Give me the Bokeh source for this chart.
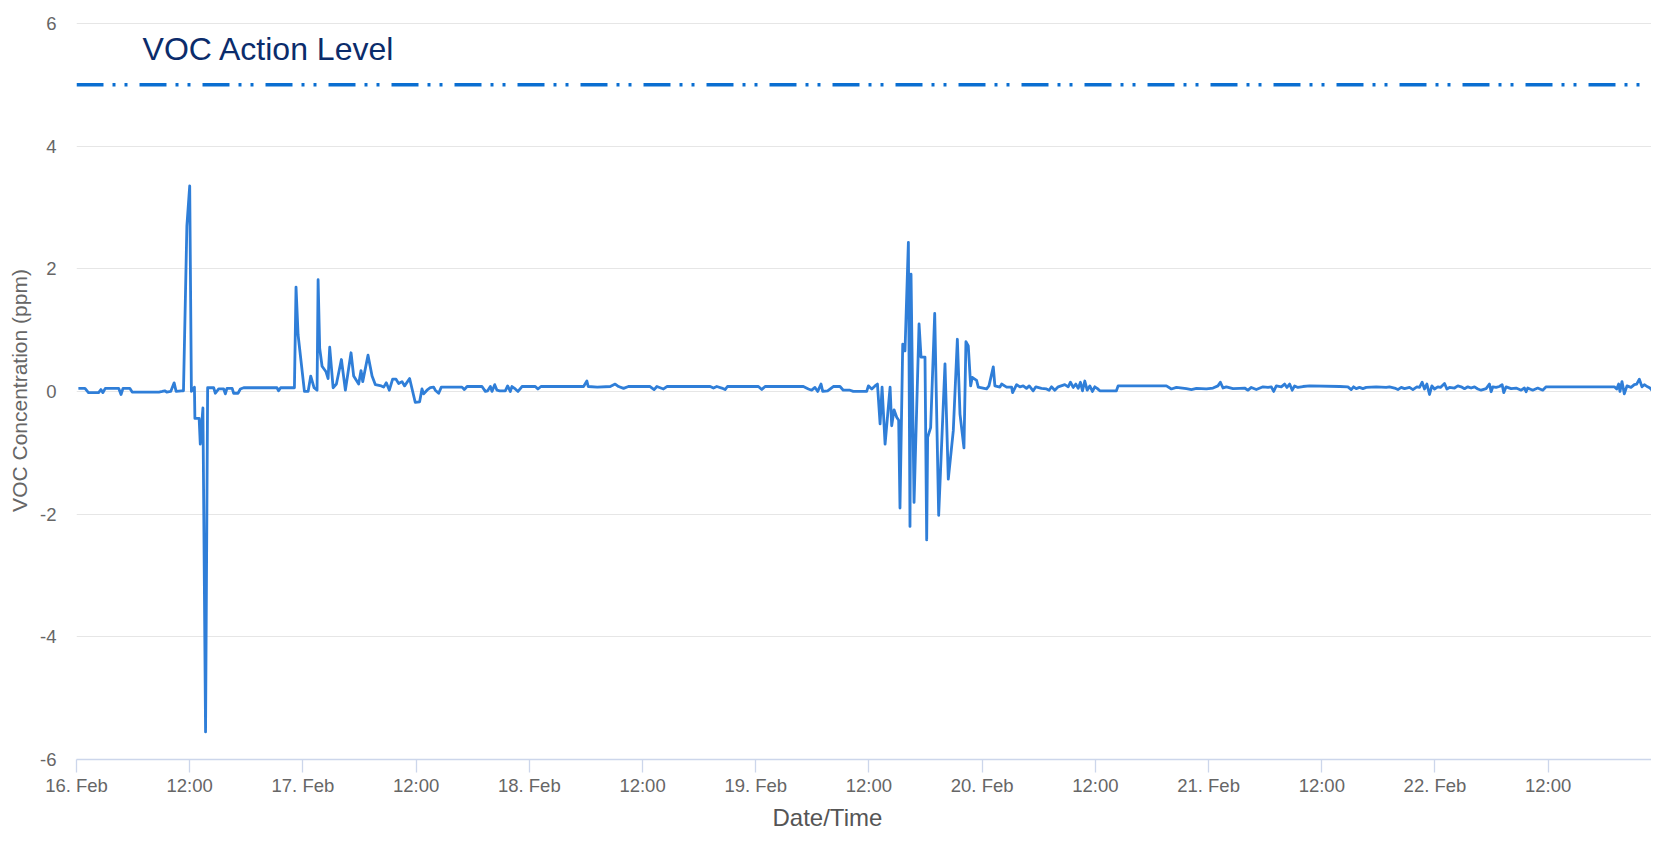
from bokeh.plotting import figure
from bokeh.models import FixedTicker, Span, Label, Range1d, ColumnDataSource, Title
from bokeh.embed import file_html
from bokeh.resources import INLINE

# ---------------- data ----------------
START_DATE = "2021-02-16 00:00"   # x values are hours after this moment

hours = [
    0.2, 0.9, 1.27, 2.34, 2.59, 2.8, 3.05, 4.47, 4.72, 4.93, 5.65, 5.9, 8.74, 9.1, 9.35, 9.56, 9.99,
    10.35, 10.56, 11.13, 11.34, 11.7, 12.0, 12.18, 12.35, 12.5, 12.55, 13.0, 13.12, 13.4, 13.68, 13.9,
    14.54, 14.72, 15.07, 15.6, 15.78, 15.95, 16.5, 16.66, 17.12, 17.37, 17.72, 21.25, 21.42, 21.64, 23.1,
    23.27, 23.49, 24.16, 24.55, 24.83, 25.18, 25.5, 25.61, 25.78, 26.03, 26.45, 26.67, 26.84, 27.2,
    27.55, 28.08, 28.5, 29.1, 29.38, 29.91, 30.16, 30.34, 30.9, 31.33, 31.68, 32.31, 32.56, 32.84,
    33.16, 33.51, 33.87, 34.15, 34.5, 34.78, 35.31, 35.91, 36.37, 36.62, 36.8, 37.15, 37.5, 37.86,
    38.03, 38.39, 38.67, 40.86,
    41.11, 41.4, 42.98, 43.34, 43.58, 43.87, 44.04, 44.33, 44.57, 44.85, 45.45, 45.7, 45.98, 46.16,
    46.51, 46.8, 47.22, 48.63, 48.91, 49.23, 53.75, 54.1, 54.24, 55.2, 56.58, 57.1, 57.46, 57.99,
    58.5, 60.8, 61.23, 61.52, 62.22, 62.58, 67.17, 67.52, 67.87, 68.4, 68.75, 69.0, 72.28, 72.64,
    72.99, 77.05, 77.58, 77.93, 78.28, 78.57, 78.92, 79.1, 79.62, 80.22, 80.93, 81.28, 81.99, 82.34,
    83.76, 83.94, 84.3, 84.64, 84.9,
    85.18, 85.39, 85.71, 86.24, 86.41, 86.66, 86.94, 87.15, 87.29, 87.58, 87.82, 88.18, 88.35, 88.46,
    88.78, 89.31, 89.52, 89.94, 90.12, 90.22, 90.54, 90.97, 91.39, 92.06, 92.41, 92.94, 93.37, 93.65,
    94.07, 94.28, 94.53, 94.78, 94.95, 95.41, 95.59, 96.47, 96.72, 97.18, 97.35, 97.88, 98.06, 98.59,
    99.12, 99.23, 99.65,
    100.0, 100.35, 100.7, 100.99, 101.41, 101.69, 102.29, 102.82, 103.1, 103.35, 103.7, 104.06,
    104.76, 105.12, 105.36, 105.65, 105.93, 106.18, 106.42, 106.63, 106.88, 107.13, 107.41, 107.69,
    107.94, 108.19, 108.47, 110.23, 110.41, 115.53, 116.06, 116.59, 117.65, 118.18, 118.71, 119.24,
    119.77, 120.47, 120.99, 121.25, 121.53, 121.88, 122.59, 123.3, 123.82, 124.18, 124.53, 125.06,
    125.77, 126.3, 126.65, 126.9, 127.18, 127.71, 128.06, 128.31, 128.59, 128.87, 129.12, 129.47,
    130.0, 130.71, 133.9,
    134.77, 135.12, 135.37, 135.65, 136.0, 136.36, 136.71, 137.77, 138.83, 139.18, 139.71, 140.07,
    140.42, 140.77, 141.3, 141.66, 142.08, 142.36, 142.64, 142.89, 143.14, 143.42, 143.67, 143.95,
    144.3, 144.58, 145.01, 145.26, 145.54, 146.07, 146.42, 146.77, 147.13, 147.48, 147.83, 148.19,
    148.54, 148.89, 149.42, 149.77, 149.95, 150.13, 150.48, 150.83, 151.12, 151.29, 151.54, 152.07,
    152.6, 153.13, 153.48, 153.66, 153.83, 154.36, 154.89, 155.42, 155.78, 163.01, 163.26, 163.47,
    163.61, 163.82, 164.07, 164.35, 164.78, 165.13, 165.38, 165.66, 165.94, 166.19, 166.54, 166.79,
    167.0, 167.25, 167.6, 167.78,
]

voc_ppm = [
    0.05, 0.05, -0.02, -0.02, 0.03, -0.02, 0.05, 0.05, -0.05, 0.05, 0.05, -0.01, -0.01, 0.0, 0.01, -0.01, 0.0,
    0.14, 0.0, 0.01, 0.01, 2.7, 3.35, 0.0, 0.03, 0.07, -0.44, -0.44, -0.86, -0.27, -5.55, 0.06,
    0.06, -0.03, 0.04, 0.04, -0.04, 0.05, 0.05, -0.03, -0.03, 0.04, 0.06, 0.06, 0.01, 0.06, 0.06,
    1.7, 0.92, 0.0, 0.0, 0.25, 0.06, 0.02, 1.82, 0.7, 0.41, 0.32, 0.21, 0.72, 0.06,
    0.12, 0.52, 0.02, 0.63, 0.25, 0.12, 0.34, 0.16, 0.59, 0.25, 0.11, 0.09, 0.07, 0.14,
    0.02, 0.2, 0.2, 0.13, 0.16, 0.09, 0.21, -0.18, -0.17, 0.04, -0.04, 0.02, 0.06, 0.07,
    0.02, -0.03, 0.07, 0.07,
    0.03, 0.08, 0.08, 0.0, 0.01, 0.08, 0.0, 0.11, 0.02, 0.01, 0.01, 0.09, 0.0, 0.08,
    0.04, 0.0, 0.08, 0.08, 0.04, 0.08, 0.08, 0.17, 0.08, 0.07, 0.08, 0.12, 0.08, 0.05,
    0.08, 0.08, 0.03, 0.08, 0.04, 0.08, 0.08, 0.055, 0.08, 0.055, 0.03, 0.08, 0.08, 0.03,
    0.08, 0.08, 0.04, 0.02, 0.065, 0.0, 0.12, 0.0, 0.01, 0.08, 0.08, 0.02, 0.02, 0.0,
    0.0, 0.09, 0.04, 0.09, 0.12,
    -0.53, 0.07, -0.86, 0.07, -0.56, -0.3, -0.42, -0.47, -1.9, 0.77, 0.66, 2.43, -2.2, 1.91,
    -1.81, 1.1, 0.56, 0.56, -2.42, -0.75, -0.59, 1.27, -2.02, 0.45, -1.43, -0.64, 0.85, -0.37,
    -0.92, 0.81, 0.74, 0.09, 0.23, 0.18, 0.07, 0.04, 0.09, 0.4, 0.09, 0.07, 0.12, 0.07,
    0.07, -0.02, 0.11,
    0.075, 0.09, 0.05, 0.09, 0.01, 0.075, 0.05, 0.04, 0.02, 0.075, 0.02, 0.075,
    0.11, 0.075, 0.15, 0.065, 0.12, 0.05, 0.15, 0.01, 0.17, 0.02, 0.09, 0.0,
    0.075, 0.05, 0.01, 0.01, 0.09, 0.09, 0.04, 0.065, 0.045, 0.03, 0.05, 0.045,
    0.04, 0.055, 0.09, 0.15, 0.055, 0.075, 0.045, 0.05, 0.055, 0.02, 0.065, 0.03,
    0.075, 0.065, 0.075, 0.0, 0.09, 0.075, 0.12, 0.065, 0.12, 0.02, 0.09, 0.065,
    0.08, 0.09, 0.08,
    0.075, 0.03, 0.075, 0.045, 0.065, 0.045, 0.065, 0.075, 0.065, 0.075, 0.055, 0.03,
    0.065, 0.045, 0.065, 0.03, 0.075, 0.065, 0.15, 0.04, 0.12, -0.05, 0.09, 0.04,
    0.075, 0.065, 0.13, 0.04, 0.065, 0.055, 0.09, 0.075, 0.045, 0.075, 0.055, 0.075,
    0.04, 0.02, 0.045, 0.12, -0.005, 0.075, 0.065, 0.08, 0.11, -0.02, 0.075, 0.045,
    0.055, 0.02, 0.055, -0.005, 0.055, 0.02, 0.055, 0.02, 0.075, 0.075, 0.04, 0.12,
    0.0, 0.16, -0.04, 0.09, 0.065, 0.11, 0.12, 0.2, 0.075, 0.11, 0.075, 0.055,
    0.02, 0.075, 0.03, 0.035,
]

action_level_ppm = 5

x_tick_hours = [0, 12, 24, 36, 48, 60, 72, 84, 96, 108, 120, 132, 144, 156]
x_tick_labels = ["16. Feb", "12:00", "17. Feb", "12:00", "18. Feb", "12:00", "19. Feb", "12:00",
                 "20. Feb", "12:00", "21. Feb", "12:00", "22. Feb", "12:00"]
y_ticks = [-6, -4, -2, 0, 2, 4, 6]
y_tick_labels = ["-6", "-4", "-2", "0", "2", "4", "6"]

FONT = "Liberation Sans"

# ---------------- figure ----------------
p = figure(width=1651, height=834, output_backend="svg", toolbar_location=None,
           x_range=Range1d(0, 166.95), y_range=Range1d(-6, 6.03),
           min_border_left=76, min_border_right=0, min_border_top=21, min_border_bottom=75)
p.outline_line_color = None
p.background_fill_color = "white"
p.border_fill_color = "white"

src = ColumnDataSource(dict(t=hours, voc=voc_ppm))
p.line(x="t", y="voc", source=src, line_color="#2f7ed8", line_width=2.8, line_join="round")

p.add_layout(Span(location=action_level_ppm, dimension="width", line_color="#0a6ed1",
                  line_width=3.5, line_dash="27 9 3 9 3 12"))
p.add_layout(Label(x=7.0, y=action_level_ppm, y_offset=36, text="VOC Action Level",
                   text_font=FONT, text_font_size="32px", text_color="#0b2c6b",
                   text_baseline="alphabetic", text_align="left"))

# grid
p.xgrid.grid_line_color = None
p.ygrid.grid_line_color = "#e6e6e6"
p.ygrid.grid_line_width = 1

# x axis
xa = p.xaxis[0]
xa.ticker = FixedTicker(ticks=x_tick_hours)
xa.major_label_overrides = {h: lab for h, lab in zip(x_tick_hours, x_tick_labels)}
xa.axis_line_color = "#ccd6eb"
xa.axis_line_width = 1.3
xa.major_tick_line_color = "#ccd6eb"
xa.major_tick_line_width = 1.3
xa.major_tick_out = 13
xa.major_tick_in = 0
xa.minor_tick_line_color = None
xa.major_label_text_color = "#666666"
xa.major_label_text_font = FONT
xa.major_label_text_font_size = "18.5px"
xa.major_label_standoff = 2

# x-axis title, below the axis (left of the axis centre, as in the reference)
p.add_layout(Title(text="Date/Time", align="left", offset=696, standoff=7,
                   text_font=FONT, text_font_size="24px", text_font_style="normal",
                   text_color="#555555"), "below")

# y axis
ya = p.yaxis[0]
ya.ticker = FixedTicker(ticks=y_ticks)
ya.major_label_overrides = {v: lab for v, lab in zip(y_ticks, y_tick_labels)}
ya.axis_line_color = None
ya.major_tick_line_color = None
ya.minor_tick_line_color = None
ya.major_tick_out = 0
ya.major_tick_in = 0
ya.major_label_text_color = "#666666"
ya.major_label_text_font = FONT
ya.major_label_text_font_size = "18.5px"
ya.major_label_standoff = 20
ya.axis_label = "VOC Concentration (ppm)"
ya.axis_label_text_font = FONT
ya.axis_label_text_font_size = "21px"
ya.axis_label_text_font_style = "normal"
ya.axis_label_text_color = "#666666"
ya.axis_label_standoff = 6

open("out.html", "w").write(file_html(p, INLINE))
